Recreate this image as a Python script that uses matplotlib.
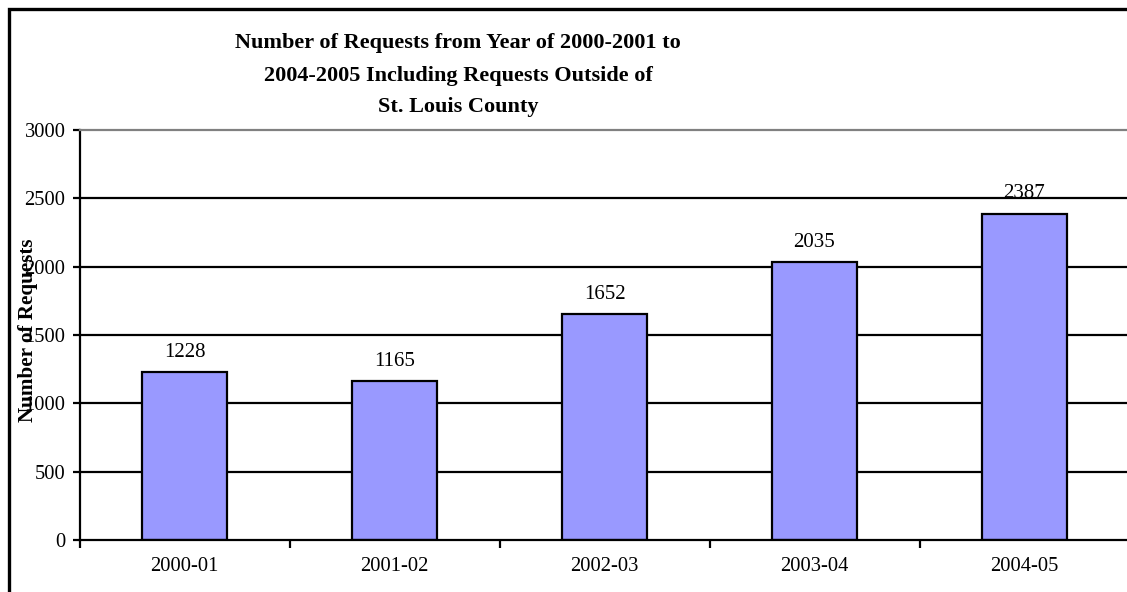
import matplotlib.pyplot as plt
from matplotlib.patches import Rectangle

plt.rcParams['font.family'] = ['Liberation Serif', 'DejaVu Serif']

years = ['2000-01', '2001-02', '2002-03', '2003-04', '2004-05']
requests = [1228, 1165, 1652, 2035, 2387]
yticks = [0, 500, 1000, 1500, 2000, 2500, 3000]
title_lines = ['Number of Requests from Year of 2000-2001 to',
               '2004-2005 Including Requests Outside of',
               'St. Louis County']

fig = plt.figure(figsize=(11.27, 5.92), dpi=100)
W, H = 1127.0, 592.0

# outer chart border (only top and left edges fall inside the image)
fig.patches.append(Rectangle((9 / W, -0.1), 1.2, 1.1 - 9 / H, transform=fig.transFigure,
                             fill=False, edgecolor='black', linewidth=2.4, zorder=0))

# plot area runs a little past the right edge of the figure
ax = fig.add_axes([79.5 / W, 52 / H, 1050 / W, 410 / H])
x = range(len(years))

# horizontal gridlines
for v in yticks[1:-1]:
    ax.axhline(v, color='black', linewidth=1.6, zorder=1)

ax.bar(x, requests, width=0.405, color='#9999FF', edgecolor='black', linewidth=1.6, zorder=2)

for i, v in enumerate(requests):
    ax.annotate(str(v), (i, v), xytext=(0, 11), textcoords='offset points',
                ha='center', va='baseline', fontsize=15)

ax.set_xlim(-0.5, len(years) - 0.5)
ax.set_ylim(0, 3000)
ax.set_yticks(yticks)
ax.set_yticklabels([str(t) for t in yticks], fontsize=14.8)
ax.set_xticks(list(x))
ax.set_xticklabels(years, fontsize=14.8)
ax.set_xticks([i - 0.5 for i in range(len(years) + 1)], minor=True)
ax.tick_params(axis='x', which='major', length=0, pad=12)
ax.tick_params(axis='x', which='minor', length=6, width=1.6, direction='out')
ax.tick_params(axis='y', length=5, width=1.6, pad=5, direction='out')

ax.spines['left'].set_linewidth(1.6)
ax.spines['bottom'].set_linewidth(1.6)
ax.spines['top'].set_color('#808080')
ax.spines['top'].set_linewidth(1.6)
ax.spines['right'].set_visible(False)

fig.text(28 / W, 1 - 330 / H, 'Number of Requests', rotation=90, ha='center', va='center',
         fontsize=15.2, fontweight='bold')

# title, one line at a time
for line, base in zip(title_lines, [48, 81, 112]):
    fig.text(458 / W, 1 - base / H, line, ha='center', va='baseline',
             fontsize=16, fontweight='bold')

plt.savefig('out.png', dpi=100)
